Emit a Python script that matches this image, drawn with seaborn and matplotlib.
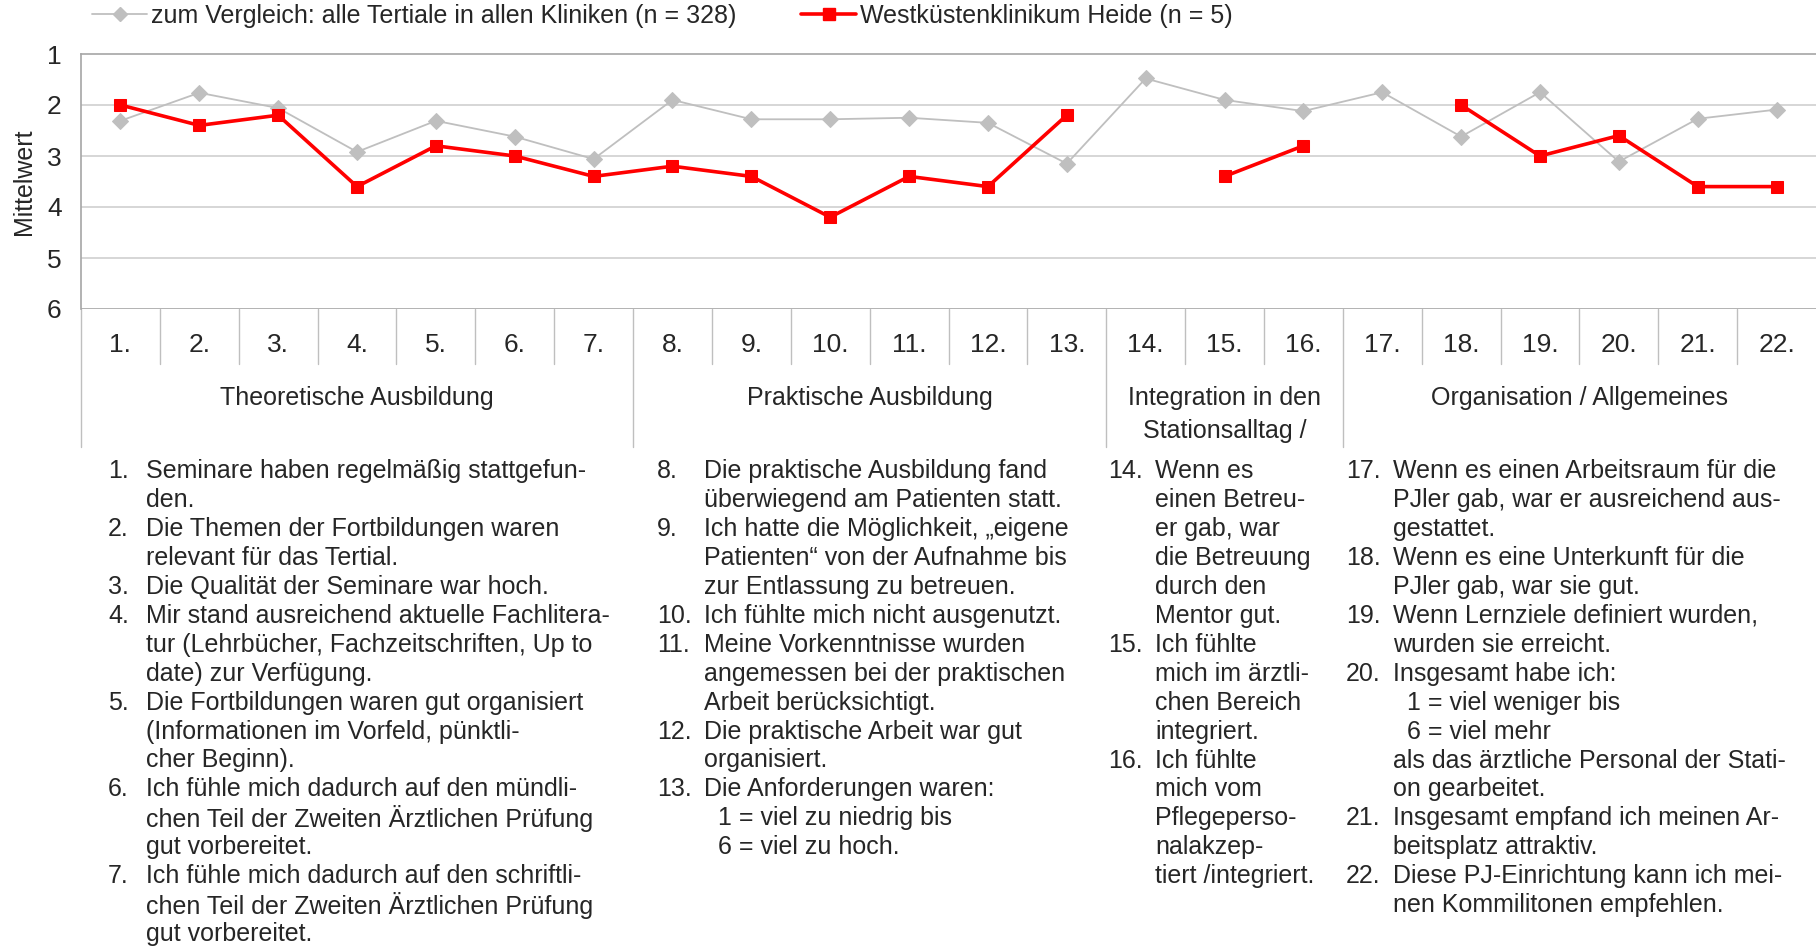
import numpy as np
import pandas as pd
import matplotlib
matplotlib.use("Agg")
import matplotlib.pyplot as plt
import matplotlib.transforms as mtransforms
from matplotlib.lines import Line2D
import seaborn as sns

# ---------------- data ----------------
items = [f"{i}." for i in range(1, 23)]
comparison = [2.31, 1.76, 2.06, 2.92, 2.31, 2.62, 3.06, 1.90, 2.28, 2.28, 2.25,
              2.35, 3.15, 1.48, 1.90, 2.12, 1.75, 2.62, 1.75, 3.11, 2.27, 2.09]
heide = [2.0, 2.4, 2.2, 3.6, 2.8, 3.0, 3.4, 3.2, 3.4, 4.2, 3.4,
         3.6, 2.2, np.nan, 3.4, 2.8, np.nan, 2.0, 3.0, 2.6, 3.6, 3.6]
series_labels = ["zum Vergleich: alle Tertiale in allen Kliniken (n = 328)",
                 "Westküstenklinikum Heide (n = 5)"]
y_ticks = [1, 2, 3, 4, 5, 6]
y_label = "Mittelwert"
group_names = ["Theoretische Ausbildung", "Praktische Ausbildung",
               "Integration in den\nStationsalltag /", "Organisation / Allgemeines"]
group_sizes = [7, 6, 3, 6]

col1 = [("1.", ["Seminare haben regelmäßig stattgefun-", "den."]),
        ("2.", ["Die Themen der Fortbildungen waren", "relevant für das Tertial."]),
        ("3.", ["Die Qualität der Seminare war hoch."]),
        ("4.", ["Mir stand ausreichend aktuelle Fachlitera-",
                "tur (Lehrbücher, Fachzeitschriften, Up to", "date) zur Verfügung."]),
        ("5.", ["Die Fortbildungen waren gut organisiert",
                "(Informationen im Vorfeld, pünktli-", "cher Beginn)."]),
        ("6.", ["Ich fühle mich dadurch auf den mündli-",
                "chen Teil der Zweiten Ärztlichen Prüfung", "gut vorbereitet."]),
        ("7.", ["Ich fühle mich dadurch auf den schriftli-",
                "chen Teil der Zweiten Ärztlichen Prüfung", "gut vorbereitet."])]
col2 = [("8.", ["Die praktische Ausbildung fand", "überwiegend am Patienten statt."]),
        ("9.", ["Ich hatte die Möglichkeit, „eigene", "Patienten“ von der Aufnahme bis",
                "zur Entlassung zu betreuen."]),
        ("10.", ["Ich fühlte mich nicht ausgenutzt."]),
        ("11.", ["Meine Vorkenntnisse wurden", "angemessen bei der praktischen",
                 "Arbeit berücksichtigt."]),
        ("12.", ["Die praktische Arbeit war gut", "organisiert."]),
        ("13.", ["Die Anforderungen waren:", "  1 = viel zu niedrig bis", "  6 = viel zu hoch."])]
col3 = [("14.", ["Wenn es", "einen Betreu-", "er gab, war", "die Betreuung", "durch den", "Mentor gut."]),
        ("15.", ["Ich fühlte", "mich im ärztli-", "chen Bereich", "integriert."]),
        ("16.", ["Ich fühlte", "mich vom", "Pflegeperso-", "nalakzep-", "tiert /integriert."])]
col4 = [("17.", ["Wenn es einen Arbeitsraum für die", "PJler gab, war er ausreichend aus-", "gestattet."]),
        ("18.", ["Wenn es eine Unterkunft für die", "PJler gab, war sie gut."]),
        ("19.", ["Wenn Lernziele definiert wurden,", "wurden sie erreicht."]),
        ("20.", ["Insgesamt habe ich:", "  1 = viel weniger bis", "  6 = viel mehr",
                 "als das ärztliche Personal der Stati-", "on gearbeitet."]),
        ("21.", ["Insgesamt empfand ich meinen Ar-", "beitsplatz attraktiv."]),
        ("22.", ["Diese PJ-Einrichtung kann ich mei-", "nen Kommilitonen empfehlen."])]

# ---------------- style ----------------
sns.set_theme(style="white")
plt.rcParams['font.family'] = ['Liberation Sans', 'DejaVu Sans']
FS = 18
GREY = "#BFBFBF"
RED = "#FF0000"
W, H = 1816, 951

fig = plt.figure(figsize=(W / 100, H / 100), dpi=100)
ax = fig.add_axes([81 / W, 1 - 309 / H, 1 - 81 / W, (309 - 54) / H])

pos = np.arange(len(items))
df_cmp = pd.DataFrame({"pos": pos, "val": comparison, "seg": 0})
hv = np.array(heide, dtype=float)
seg = np.cumsum(np.isnan(hv))
df_h = pd.DataFrame({"pos": pos, "val": hv, "seg": seg}).dropna()

sns.lineplot(data=df_cmp, x="pos", y="val", units="seg", estimator=None, ax=ax,
             color=GREY, linewidth=1.3, marker="D", markersize=8,
             markeredgecolor=GREY, markerfacecolor=GREY, zorder=3)
sns.lineplot(data=df_h, x="pos", y="val", units="seg", estimator=None, ax=ax,
             color=RED, linewidth=2.6, marker="s", markersize=9,
             markeredgecolor=RED, markerfacecolor=RED, zorder=4)

ax.set_xlim(-0.5, len(items) - 0.5)
ax.set_ylim(6, 1)
ax.set_yticks(y_ticks)
ax.set_yticklabels([str(t) for t in y_ticks], fontsize=FS + 1)
ax.tick_params(axis="y", length=0, pad=14)
ax.set_xticks([])
ax.set_xlabel("")
ax.set_ylabel(y_label, fontsize=FS)
ax.yaxis.set_label_coords((36 - 81) / (W - 81), 0.5)
for t in [2, 3, 4, 5]:
    ax.axhline(t, color="#CFCFCF", linewidth=1.2, zorder=1)
for s in ["right", "bottom"]:
    ax.spines[s].set_visible(False)
ax.spines["top"].set_color("#A6A6A6")
ax.spines["left"].set_color("#A6A6A6")
ax.spines["top"].set_linewidth(1.2)
ax.spines["left"].set_linewidth(1.2)
ax.axhline(6, color="#A6A6A6", linewidth=1.2, zorder=1)

# ---------------- category table below ----------------
ah = 309 - 54
def yax(py):
    return (309 - py) / ah

trans = mtransforms.blended_transform_factory(ax.transData, ax.transAxes)
row_bot = yax(364)
grp_bot = yax(447)
bounds = np.cumsum(group_sizes)[:-1] - 0.5
for i in range(1, len(items)):
    x = i - 0.5
    bottom = grp_bot if x in bounds else row_bot
    ax.add_line(Line2D([x, x], [0, bottom], transform=trans, color="#BFBFBF",
                       linewidth=1.0, clip_on=False))
ax.add_line(Line2D([-0.5, -0.5], [0, grp_bot], transform=trans, color="#BFBFBF",
                   linewidth=1.0, clip_on=False))
for i, lab in enumerate(items):
    ax.text(i, yax(345), lab, transform=trans, ha="center", va="center",
            fontsize=FS + 1, clip_on=False)
start = 0
for name, n in zip(group_names, group_sizes):
    c = start + (n - 1) / 2
    ax.text(c, yax(386), name, transform=trans, ha="center", va="top",
            fontsize=FS, linespacing=1.45, clip_on=False)
    start += n

# ---------------- question list ----------------
def draw_col(col, xnum, xtxt):
    line = 0
    for num, lines in col:
        y0 = 471 + line * 28.95
        fig.text(xnum / W, 1 - y0 / H, num, ha="left", va="center", fontsize=FS)
        for j, txt in enumerate(lines):
            y = 471 + (line + j) * 28.95
            fig.text(xtxt / W, 1 - y / H, txt, ha="left", va="center", fontsize=FS)
        line += len(lines)

draw_col(col1, 108, 146)
draw_col(col2, 657, 704)
draw_col(col3, 1108, 1155)
draw_col(col4, 1346, 1393)

# ---------------- legend ----------------
handles = [Line2D([], [], color=GREY, linewidth=1.3, marker="D", markersize=7,
                  markeredgecolor=GREY),
           Line2D([], [], color=RED, linewidth=2.6, marker="s", markersize=8,
                  markeredgecolor=RED)]
fig.legend(handles, series_labels, loc="center left", bbox_to_anchor=(92 / W, 1 - 16 / H),
           ncol=2, frameon=False, fontsize=FS, handlelength=2.2, handletextpad=0.15,
           columnspacing=2.6, borderaxespad=0, borderpad=0)

fig.savefig("out.png", dpi=100)
